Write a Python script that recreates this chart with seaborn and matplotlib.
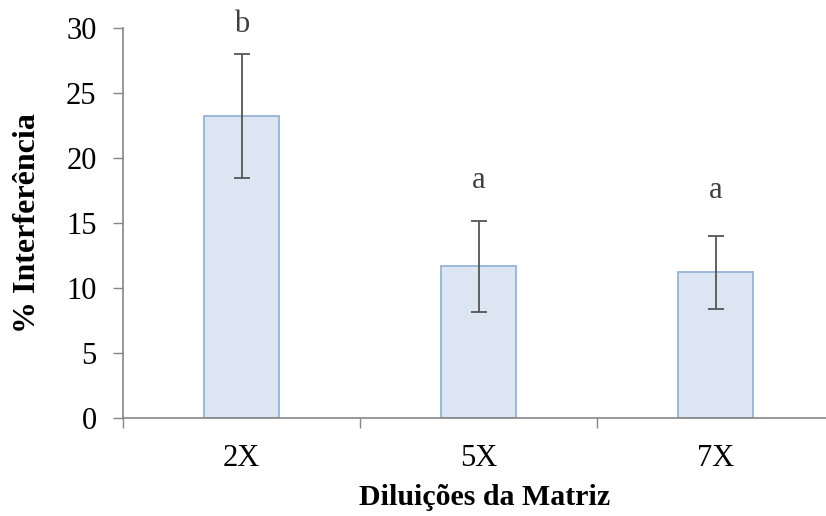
import matplotlib
matplotlib.use("Agg")
import matplotlib.pyplot as plt
import seaborn as sns
import pandas as pd

# Interference by matrix dilution (mean ± SD) with significance letters
dilutions = ["2X", "5X", "7X"]
interference = [23.2, 11.67, 11.2]
std_dev = [4.77, 3.49, 2.83]
letters = ["b", "a", "a"]
letter_y = [30.3, 18.3, 17.5]

df = pd.DataFrame({"Diluição": dilutions, "Interferência": interference})

sns.set_theme(style="white")
plt.rcParams["font.family"] = ["Liberation Serif", "DejaVu Serif"]

W, H = 826, 516
fig = plt.figure(figsize=(W / 100, H / 100), dpi=100)
left, right, top, bottom = 123, 834, 28, 418
ax = fig.add_axes([left / W, 1 - bottom / H, (right - left) / W, (bottom - top) / H])

sns.barplot(data=df, x="Diluição", y="Interferência", ax=ax, width=0.316,
            color="#DCE6F2", edgecolor="#95B3D7", linewidth=1.3, saturation=1)
for p in ax.patches:
    p.set_facecolor("#DCE6F2")

ax.errorbar(range(len(dilutions)), interference, yerr=std_dev, fmt="none",
            ecolor="#555555", elinewidth=1.3, capsize=6, capthick=1.3)

for i, (lab, ly) in enumerate(zip(letters, letter_y)):
    ax.text(i, ly, lab, ha="center", va="center", fontsize=22, color="#404040")

ax.set_xlim(-0.5, 2.5)
ax.set_ylim(0, 30)
ax.set_yticks(range(0, 31, 5))
ax.tick_params(axis="y", which="major", direction="out", length=7, width=1,
               color="#868686", labelsize=22, labelcolor="black", pad=12, left=True)

# category boundaries carry the tick marks, labels sit at bar centres
ax.set_xticks([-0.5, 0.5, 1.5, 2.5])
ax.set_xticklabels([])
ax.set_xticks([0, 1, 2], minor=True)
ax.set_xticklabels(dilutions, minor=True)
ax.tick_params(axis="x", which="major", direction="out", length=7, width=1,
               color="#868686", bottom=True)
ax.tick_params(axis="x", which="minor", length=0, labelsize=22,
               labelcolor="black", pad=19)

for s in ["top", "right"]:
    ax.spines[s].set_visible(False)
for s in ["left", "bottom"]:
    ax.spines[s].set_color("#868686")
    ax.spines[s].set_linewidth(1.2)

ax.set_xlabel("Diluições da Matriz", fontsize=21.5, fontweight="bold",
              va="top", color="black")
ax.xaxis.set_label_coords(0.508, -0.170)
ax.set_ylabel("% Interferência", fontsize=23, fontweight="bold", color="black")
ax.yaxis.set_label_coords(-0.114, 0.5)
ax.grid(False)

fig.savefig("out.png", dpi=100)
